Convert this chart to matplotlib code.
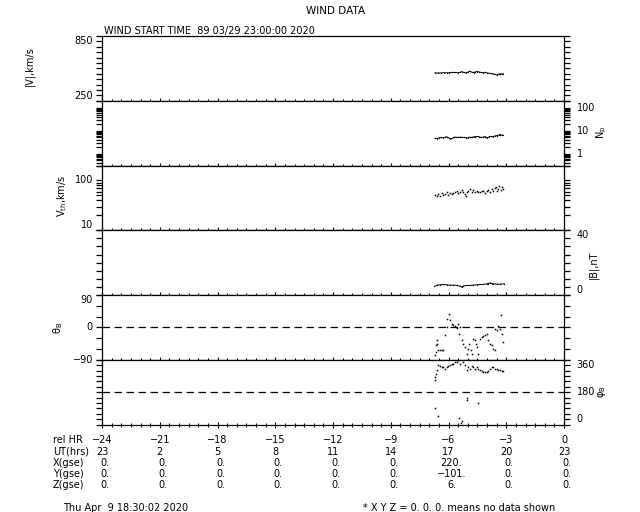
"""WIND DATA - 24 h solar wind summary plot (recreated)."""
import matplotlib
matplotlib.use("Agg")
import matplotlib.pyplot as plt
import matplotlib.ticker as mticker
import matplotlib.transforms as mtrans

plt.rcParams["font.family"] = ["DejaVu Sans"]
plt.rcParams["font.size"] = 7

# ---- data ----
V_HR = [-6.70, -6.55, -6.40, -6.25, -6.10, -5.95, -5.80, -5.65, -5.50, -5.40, -5.30,
        -5.20, -5.10, -5.00, -4.90, -4.80, -4.70, -4.60, -4.50, -4.40, -4.30, -4.20,
        -4.10, -4.00, -3.90, -3.80, -3.70, -3.60, -3.50, -3.40, -3.30, -3.20, -3.15]
V_KMS = [509, 507, 508, 510, 509, 511, 513, 512, 510, 514, 520, 512, 508, 515, 524, 516,
         511, 518, 521, 516, 512, 510, 513, 508, 505, 503, 500, 496, 488, 497, 500, 498, 499]

NP_HR = [-6.70, -6.60, -6.50, -6.40, -6.30, -6.20, -6.10, -6.00, -5.90, -5.80, -5.70,
         -5.60, -5.50, -5.40, -5.30, -5.20, -5.10, -5.00, -4.90, -4.80, -4.70, -4.60,
         -4.50, -4.40, -4.30, -4.20, -4.10, -4.00, -3.90, -3.80, -3.70, -3.60, -3.50,
         -3.40, -3.30, -3.20, -3.15]
NP = [4.6, 4.5, 4.8, 5.0, 4.9, 5.1, 5.3, 4.9, 4.3, 4.6, 5.2, 5.1, 5.0, 5.2, 5.0, 5.1,
      4.8, 4.9, 5.2, 5.0, 5.3, 5.4, 5.6, 5.3, 5.0, 5.2, 5.5, 4.9, 5.3, 5.6, 5.4, 5.8,
      6.0, 6.4, 6.7, 6.3, 6.2]

VTH_HR = [-6.70, -6.61, -6.53, -6.44, -6.35, -6.27, -6.18, -6.10, -6.01, -5.92, -5.84,
          -5.75, -5.66, -5.58, -5.49, -5.40, -5.32, -5.23, -5.14, -5.09, -5.06, -4.97,
          -4.88, -4.80, -4.71, -4.62, -4.54, -4.45, -4.36, -4.28, -4.19, -4.10, -4.02,
          -3.93, -3.84, -3.76, -3.67, -3.58, -3.53, -3.46, -3.41, -3.36, -3.29, -3.24, -3.15]
VTH = [51.4, 49.1, 53.0, 49.1, 55.5, 50.6, 53.8, 60.0, 52.2, 57.3, 53.0, 55.5, 60.0,
       62.8, 55.5, 59.1, 64.8, 60.0, 53.0, 49.1, 58.1, 62.8, 66.8, 60.0, 64.8, 59.1,
       62.8, 60.0, 58.1, 61.8, 60.9, 57.3, 62.8, 64.8, 60.0, 66.8, 62.8, 70.0, 75.5,
       62.8, 68.9, 78.0, 64.8, 73.2, 66.8]

B_HR = [-6.73, -6.61, -6.44, -6.27, -6.10, -5.92, -5.75, -5.58, -5.40, -5.32, -5.23,
        -5.06, -4.88, -4.71, -4.54, -4.36, -4.19, -4.02, -3.93, -3.84, -3.76, -3.67,
        -3.49, -3.32, -3.10]
B_NT = [5.3, 6.1, 6.3, 6.5, 6.3, 6.1, 6.1, 5.9, 5.5, 4.9, 5.5, 5.9, 5.9, 6.1, 6.3, 6.5,
        6.5, 6.9, 7.1, 7.5, 7.1, 6.9, 6.7, 6.7, 6.9]

THETA_HR = [-6.70, -6.67, -6.65, -6.61, -6.58, -6.53, -6.44, -6.35, -6.27, -6.18, -6.10,
            -6.06, -5.97, -5.92, -5.84, -5.75, -5.66, -5.58, -5.49, -5.44, -5.40, -5.32,
            -5.23, -5.14, -5.06, -4.97, -4.92, -4.85, -4.80, -4.71, -4.62, -4.57, -4.50,
            -4.45, -4.36, -4.28, -4.19, -4.10, -4.02, -3.93, -3.84, -3.76, -3.67, -3.58,
            -3.58, -3.50, -3.41, -3.32, -3.27, -3.24, -3.15]
THETA_B = [-77.5, -68.3, -49.8, -36.0, -45.2, -63.7, -63.7, -61.8, -63.7, -22.1, 0.9,
           24.0, 37.9, 19.4, 10.2, 5.5, 2.8, -0.9, 10.2, -17.5, 0.9, -36.0, -45.2, -54.4,
           -72.9, -59.1, -45.2, -63.7, -72.9, -31.4, -36.0, -45.2, -54.4, -72.9, -31.4,
           -26.8, -24.9, -22.1, -19.4, -36.0, -45.2, -49.8, -59.1, -63.7, -3.7, -8.3, 2.8,
           -3.7, 33.2, -17.5, -40.6]

PHI_HR = [-6.70, -6.70, -6.70, -6.65, -6.61, -6.53, -6.53, -6.44, -6.35, -6.27, -6.18,
          -6.10, -6.01, -5.92, -5.84, -5.75, -5.66, -5.58, -5.49, -5.44, -5.40, -5.36,
          -5.32, -5.23, -5.14, -5.06, -5.06, -5.06, -4.97, -4.88, -4.80, -4.71, -4.62,
          -4.54, -4.45, -4.45, -4.36, -4.28, -4.19, -4.10, -4.02, -3.93, -3.84, -3.76,
          -3.67, -3.58, -3.50, -3.41, -3.32, -3.24, -3.15]
PHI_B = [265, 246, 90, 283, 302, 47, 330, 324, 320, 317, 311, 320, 324, 330, 335, 339,
         348, 348, 357, 34, 339, 6, 21, 348, 330, 302, 145, 136, 320, 311, 324, 320, 311,
         317, 311, 121, 302, 298, 293, 293, 293, 298, 306, 317, 320, 311, 306, 302, 302,
         298, 298]

# table under the plot
REL_HR = [-24, -21, -18, -15, -12, -9, -6, -3, 0]
UT_HRS = ["23", "2", "5", "8", "11", "14", "17", "20", "23"]
X_GSE = ["0.", "0.", "0.", "0.", "0.", "0.", "220.", "0.", "0."]
Y_GSE = ["0.", "0.", "0.", "0.", "0.", "0.", "\u2212101.", "0.", "0."]
Z_GSE = ["0.", "0.", "0.", "0.", "0.", "0.", "6.", "0.", "0."]

# ---- layout (pixels of a 640x512 canvas) ----
W, H = 640, 512
X0, X1 = 102, 564
Y_TOP, Y_BOT = 36, 424.5
PH = (Y_BOT - Y_TOP) / 6

fig = plt.figure(figsize=(6.4, 5.12), dpi=100)


def px(x, y):
    return x / W, 1 - y / H


def make_panel(i):
    top = Y_TOP + i * PH
    ax = fig.add_axes([X0 / W, 1 - (top + PH) / H, (X1 - X0) / W, PH / H])
    ax.set_xlim(-24, 0)
    ax.xaxis.set_major_locator(mticker.MultipleLocator(3))
    ax.xaxis.set_minor_locator(mticker.MultipleLocator(0.5))
    ax.tick_params(axis="x", which="both", direction="inout", top=False,
                   labelbottom=False, width=0.8)
    ax.tick_params(axis="x", which="major", length=5)
    ax.tick_params(axis="x", which="minor", length=3)
    for sp in ax.spines.values():
        sp.set_linewidth(0.9)
    return ax


def y_ticks(ax, ticks, labeled, side, minor=None):
    """Linear ticks are all major; only the values in `labeled` get text."""
    labels = [labeled.get(t, ("", "center"))[0] for t in ticks]
    ax.set_yticks(ticks, labels)
    if minor is not None:
        ax.set_yticks(minor, minor=True)
    ax.tick_params(axis="y", which="both", direction="out", left=True, right=True,
                   length=4, width=0.9, labelsize=7)
    if side == "left":
        ax.tick_params(axis="y", which="major", labelleft=True, labelright=False, pad=2.5)
        tl = [t.label1 for t in ax.yaxis.get_major_ticks()]
    else:
        ax.tick_params(axis="y", which="major", labelleft=False, labelright=True, pad=5)
        tl = [t.label2 for t in ax.yaxis.get_major_ticks()]
    ax.tick_params(axis="y", which="minor", labelleft=False, labelright=False)
    for lab, t in zip(tl, ticks):
        lab.set_verticalalignment(labeled.get(t, ("", "center"))[1])


def log_minor(lo, hi):
    return [m * 10.0 ** e for e in range(lo, hi) for m in range(2, 10)]


dot = dict(color="k", ls="none", marker="s", ms=1.1, mew=0)
line = dict(color="k", lw=0.7, marker="o", ms=0.9, mew=0)

# |V|
ax1 = make_panel(0)
ax1.set_ylim(250, 850)
y_ticks(ax1, list(range(250, 851, 50)),
        {250: ("250", "bottom"), 850: ("850", "top")}, "left")
ax1.plot(V_HR, V_KMS, **line)

# Np
ax2 = make_panel(1)
ax2.set_yscale("log")
y_ticks(ax2, [1, 10, 100], {1: ("1", "center"), 10: ("10", "center"),
                            100: ("100", "center")}, "right",
        minor=[v for v in log_minor(-1, 3) if 0.3 <= v <= 200])
ax2.set_ylim(0.3, 200)
ax2.plot(NP_HR, NP, **line)

# Vth
ax3 = make_panel(2)
ax3.set_yscale("log")
y_ticks(ax3, [10, 100], {10: ("10", "bottom"), 100: ("100", "center")}, "left",
        minor=[v for v in log_minor(1, 3) if v <= 200])
ax3.set_ylim(10, 200)
ax3.plot(VTH_HR, VTH, **dot)

# |B|
ax4 = make_panel(3)
ax4.set_ylim(0, 40)
y_ticks(ax4, list(range(0, 41, 5)), {0: ("0", "bottom"), 40: ("40", "top")}, "right")
ax4.plot(B_HR, B_NT, **line)

# theta_B
ax5 = make_panel(4)
ax5.set_ylim(-90, 90)
y_ticks(ax5, list(range(-90, 91, 30)),
        {-90: ("\u221290", "center"), 0: ("0", "center"), 90: ("90", "top")}, "left")
ax5.axhline(0, color="k", lw=0.9, dashes=(6, 3.6))
ax5.plot(THETA_HR, THETA_B, **dot)

# phi_B
ax6 = make_panel(5)
ax6.set_ylim(0, 360)
y_ticks(ax6, list(range(0, 361, 30)),
        {0: ("0", "bottom"), 180: ("180", "center"), 360: ("360", "top")}, "right")
ax6.axhline(180, color="k", lw=0.9, dashes=(6, 3.6))
ax6.plot(PHI_HR, PHI_B, **dot)

# ---- titles and axis names ----
fig.text(*px(336, 11), "WIND DATA", ha="center", va="center", fontsize=7.5)
fig.text(*px(104, 36), "WIND START TIME  89 03/29 23:00:00 2020", ha="left", va="bottom")
fig.text(*px(30, 66), "|V|,km/s", rotation=90, ha="center", va="center")
fig.text(*px(62, 196), "V$_{\\rm th}$,km/s", rotation=90, ha="center", va="center")
fig.text(*px(58, 328), "\u03b8$_{\\rm B}$", rotation=90, ha="center", va="center")
fig.text(*px(602, 132), "N$_{\\rm p}$", rotation=90, ha="center", va="center")
fig.text(*px(594, 265), "|B|,nT", rotation=90, ha="center", va="center")
fig.text(*px(602, 392), "\u03c6$_{\\rm B}$", rotation=90, ha="center", va="center")

# ---- table of times and positions ----
trans = mtrans.blended_transform_factory(ax6.transData, fig.transFigure)
off = mtrans.offset_copy(trans, fig=fig, x=3, units="dots")
rows = [("rel HR", [str(v).replace("-", "\u2212") for v in REL_HR], 440, trans),
        ("UT(hrs)", UT_HRS, 452, trans),
        ("X(gse)", X_GSE, 463, off),
        ("Y(gse)", Y_GSE, 474, off),
        ("Z(gse)", Z_GSE, 485, off)]
for name, vals, ypx, tr in rows:
    fig.text(53 / W, 1 - ypx / H, name, ha="left", va="center")
    for hr, s in zip(REL_HR, vals):
        fig.text(hr, 1 - ypx / H, s, ha="center", va="center", transform=tr)

fig.text(*px(63, 508), "Thu Apr  9 18:30:02 2020", ha="left", va="center")
fig.text(*px(363, 508), "* X Y Z = 0. 0. 0. means no data shown", ha="left", va="center")

# a first draw settles the tick objects before the file is written
fig.canvas.draw()
fig.savefig("out.png", dpi=100)
